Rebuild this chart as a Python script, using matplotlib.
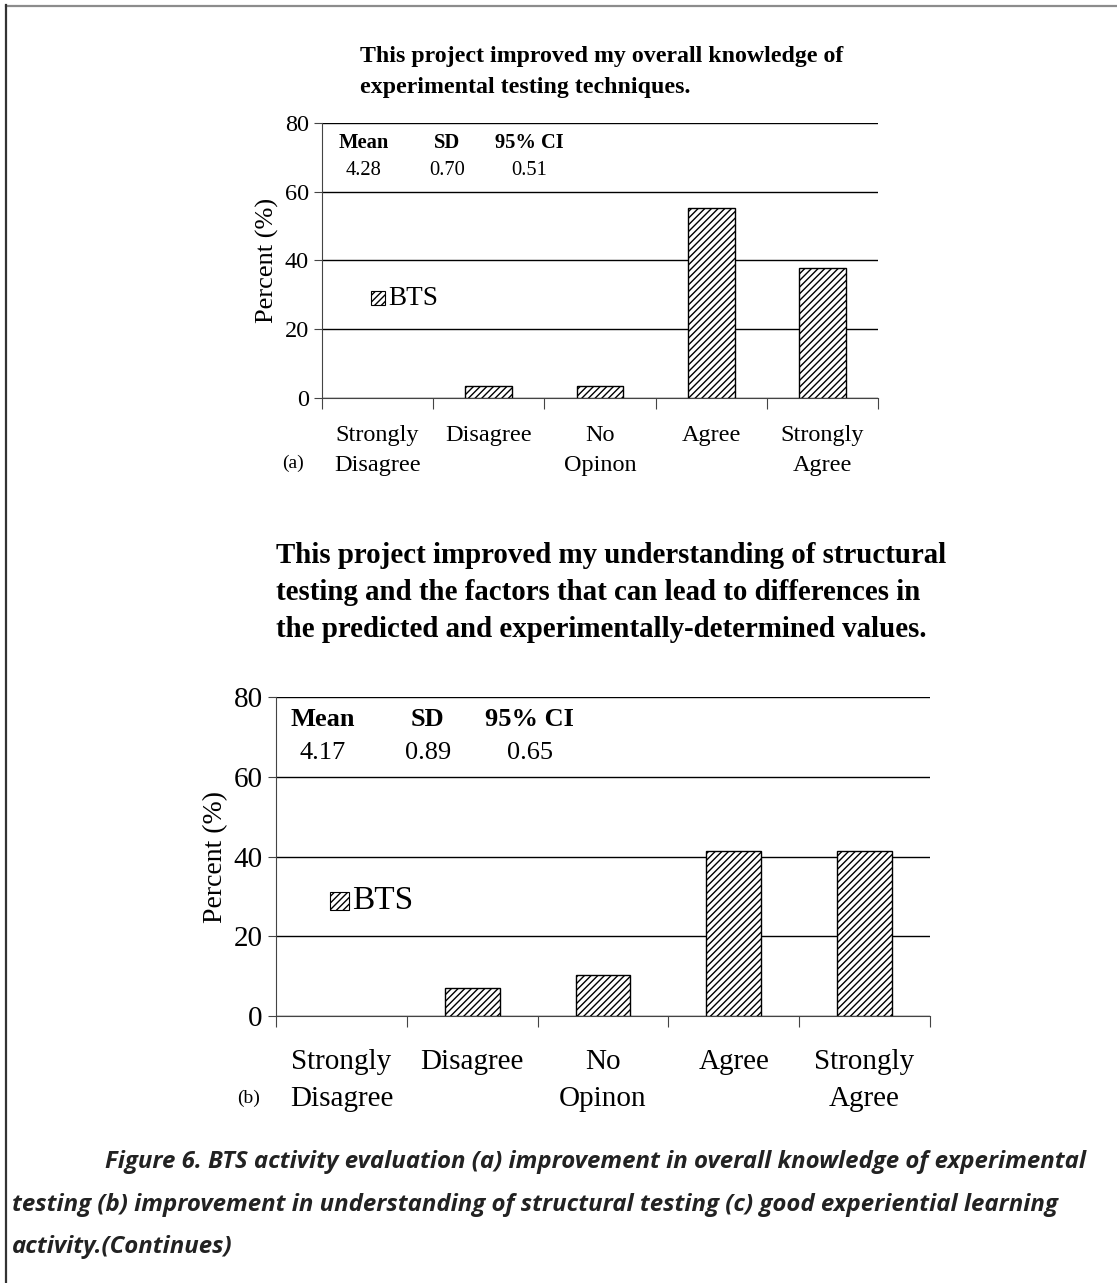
import numpy as np
import matplotlib.pyplot as plt
from matplotlib.lines import Line2D
from matplotlib.patches import Rectangle

# Likert categories (two-line tick labels)
categories = ["Strongly\nDisagree", "Disagree", "No\nOpinon", "Agree", "Strongly\nAgree"]

# percent of respondents (n = 29)
pct_a = [0.0, 3.45, 3.45, 55.2, 37.9]
pct_b = [0.0, 6.9, 10.3, 41.4, 41.4]

stats_names = ["Mean", "SD", "95% CI"]
stats_a = ["4.28", "0.70", "0.51"]
stats_b = ["4.17", "0.89", "0.65"]

title_a = "This project improved my overall knowledge of\nexperimental testing techniques."
title_b = ("This project improved my understanding of structural\n"
           "testing and the factors that can lead to differences in\n"
           "the predicted and experimentally-determined values.")
caption = ["Figure 6. BTS activity evaluation (a) improvement in overall knowledge of experimental",
           "testing (b) improvement in understanding of structural testing (c) good experiential learning",
           "activity.(Continues)"]

W, H = 1117, 1283
plt.rcParams['font.family'] = ['Liberation Serif', 'DejaVu Serif']
plt.rcParams['hatch.linewidth'] = 1.0

fig = plt.figure(figsize=(W / 100, H / 100), dpi=100)


def px_axes(left, top, right, bottom):
    return fig.add_axes([left / W, 1 - bottom / H, (right - left) / W, (bottom - top) / H])


def draw_chart(ax, values, stats, fs, lab_fs, stat_fs, leg_fs, legend_pos, stat_x, stat_y,
               tag, tag_x, tag_y):
    x = np.arange(len(values))
    edges = ["black" if v > 0 else "none" for v in values]
    ax.bar(x, values, width=0.42, color="white", edgecolor=edges, hatch="/////",
           linewidth=1.0, zorder=3)
    ax.set_xlim(-0.5, 4.5)
    ax.set_ylim(0, 80)
    ax.set_yticks([0, 20, 40, 60, 80])
    ax.yaxis.grid(True, color="black", linewidth=1.0, zorder=0)
    ax.set_axisbelow(True)
    for s in ["top", "right"]:
        ax.spines[s].set_visible(False)
    ax.spines["left"].set_color("#444444")
    ax.spines["bottom"].set_color("#444444")
    ax.set_xticks(np.arange(-0.5, 5.0, 1.0))
    ax.set_xticklabels([])
    ax.tick_params(axis="x", which="major", length=8, direction="out", color="#444444")
    ax.set_xticks(x, minor=True)
    ax.set_xticklabels(categories, minor=True, fontsize=fs, linespacing=1.55)
    ax.tick_params(axis="x", which="minor", length=0, pad=fs * 1.12)
    ax.tick_params(axis="y", length=6, labelsize=fs, color="#444444")
    ax.set_ylabel("Percent (%)", fontsize=lab_fs)

    for name, val, sx in zip(stats_names, stats, stat_x):
        ax.text(sx, stat_y[0], name, fontsize=stat_fs, fontweight="bold", ha="center",
                va="center", transform=ax.transAxes)
        ax.text(sx, stat_y[1], val, fontsize=stat_fs, ha="center", va="center",
                transform=ax.transAxes)

    lx, ly, sw, sh = legend_pos
    ax.add_patch(Rectangle((lx, ly - sh / 2), sw, sh, transform=ax.transAxes,
                           facecolor="white", edgecolor="black", hatch="/////",
                           linewidth=0.8, clip_on=False))
    ax.text(lx + sw + 0.006, ly, "BTS", fontsize=leg_fs, va="center",
            transform=ax.transAxes)
    ax.text(tag_x, tag_y, tag, fontsize=14, transform=ax.transAxes,
            va="center", ha="left")


# chart (a)
ax_a = px_axes(322, 123, 878, 398)
draw_chart(ax_a, pct_a, stats_a, fs=17.5, lab_fs=19, stat_fs=14.8, leg_fs=19.5,
           legend_pos=(0.088, 0.363, 0.026, 0.052),
           stat_x=[0.0755, 0.225, 0.372], stat_y=[0.927, 0.829],
           tag="(a)", tag_x=-0.072, tag_y=-0.236)
fig.text(360 / W, 1 - 46 / H, title_a, fontsize=17.2, fontweight="bold",
         ha="left", va="top", linespacing=1.62)

# chart (b)
ax_b = px_axes(276, 697, 930, 1016)
draw_chart(ax_b, pct_b, stats_b, fs=21, lab_fs=20, stat_fs=19, leg_fs=24,
           legend_pos=(0.083, 0.36, 0.028, 0.056),
           stat_x=[0.072, 0.232, 0.388], stat_y=[0.928, 0.824],
           tag="(b)", tag_x=-0.06, tag_y=-0.257)
fig.text(276 / W, 1 - 542 / H, title_b, fontsize=20.8, fontweight="bold",
         ha="left", va="top", linespacing=1.48)

# caption
cap_kw = dict(fontsize=17.3, fontweight="bold", style="italic", color="#222222",
              family=["Open Sans", "DejaVu Sans"], va="center", ha="left")
fig.text(105 / W, 1 - 1162 / H, caption[0], **cap_kw)
fig.text(12 / W, 1 - 1205 / H, caption[1], **cap_kw)
fig.text(12 / W, 1 - 1247 / H, caption[2], **cap_kw)

# page frame
fig.add_artist(Line2D([6 / W, 1], [1 - 5.5 / H, 1 - 5.5 / H], color="#8c8c8c", linewidth=1.6,
                      transform=fig.transFigure))
fig.add_artist(Line2D([6 / W, 6 / W], [0, 1 - 5 / H], color="#333333", linewidth=1.6,
                      transform=fig.transFigure))

fig.savefig("out.png", dpi=100)
